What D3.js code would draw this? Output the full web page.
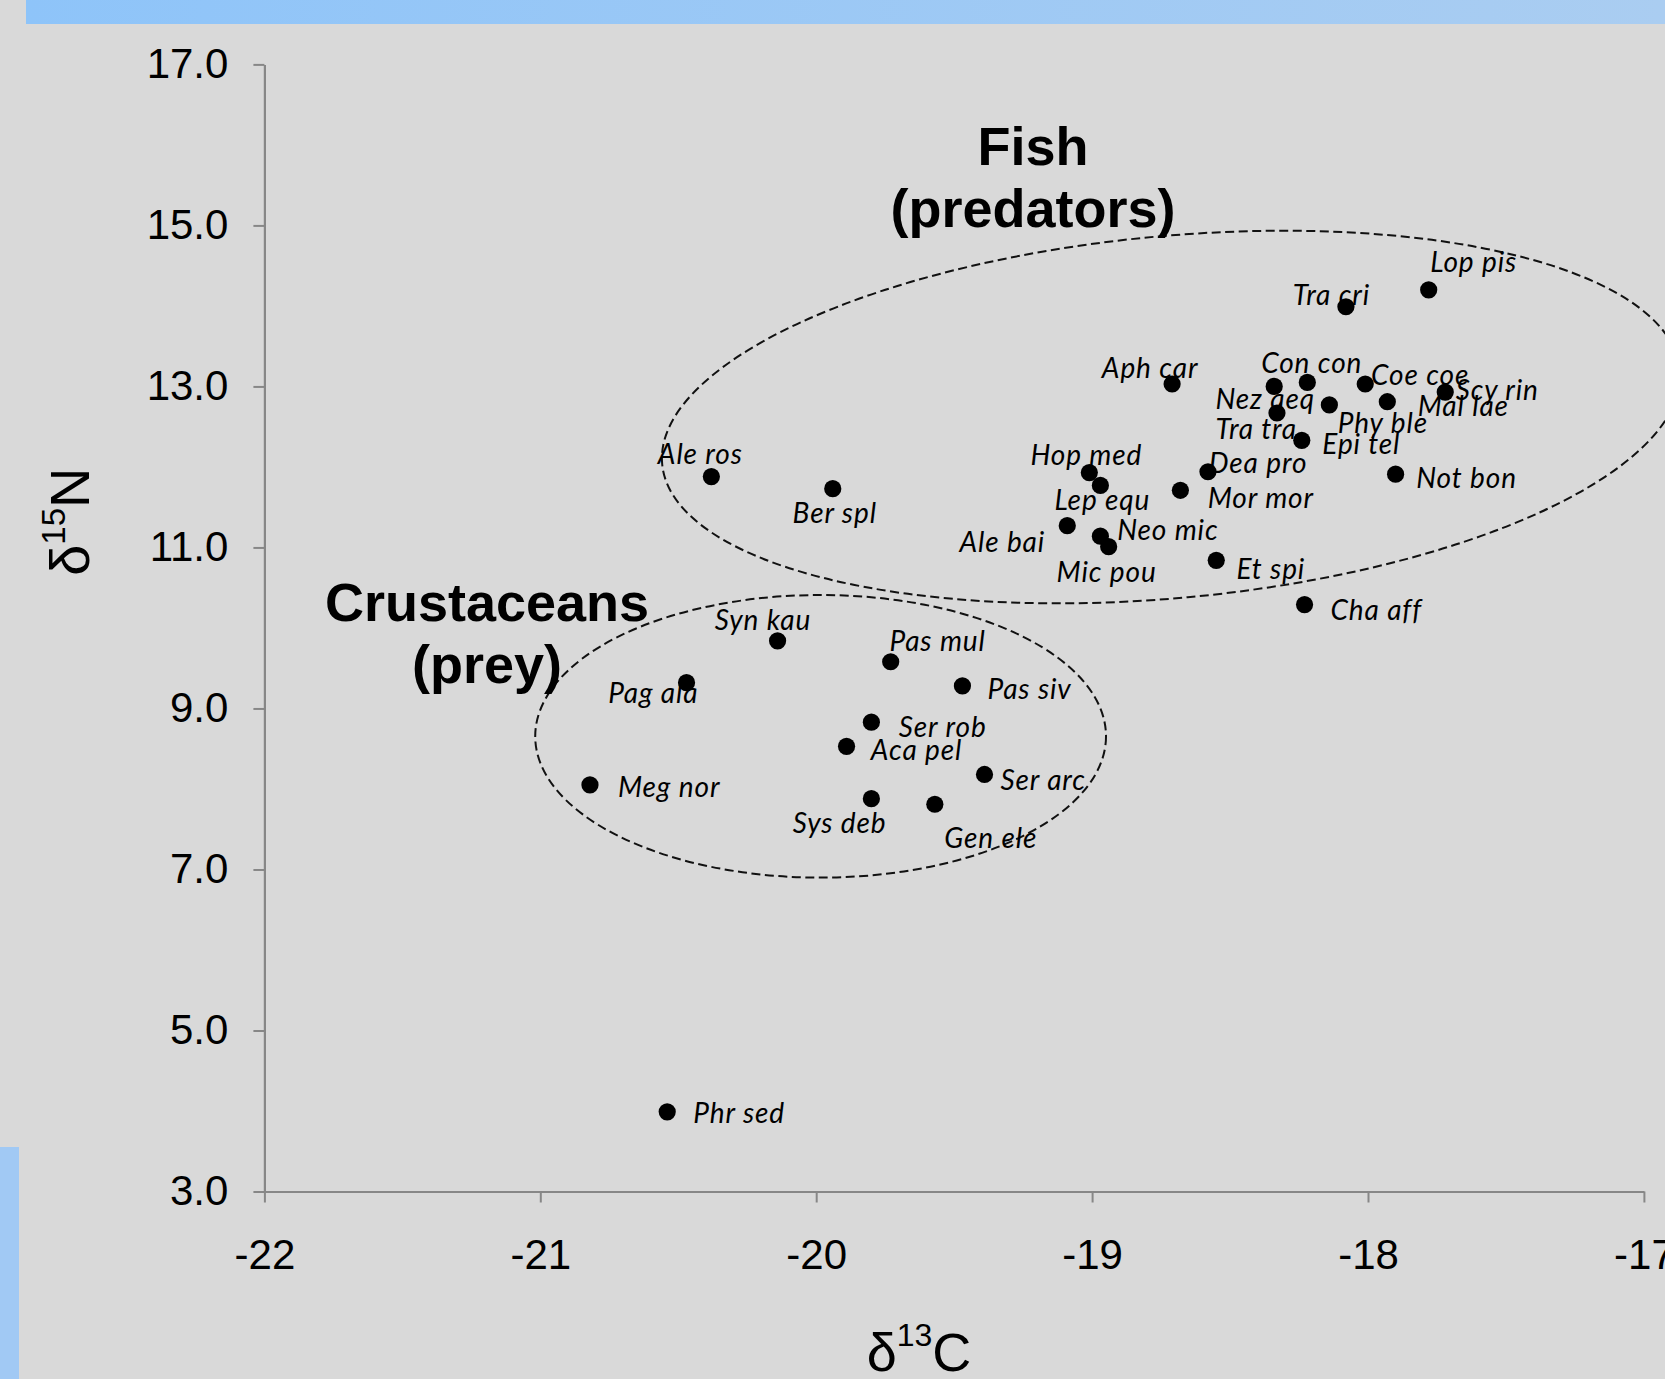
<!DOCTYPE html>
<html>
<head>
<meta charset="utf-8">
<script src="https://cdn.jsdelivr.net/npm/d3@7"></script>
<style>
  html, body { margin: 0; padding: 0; background: #d9d9d9; overflow: hidden; }
  svg { display: block; }
</style>
</head>
<body>
<svg id="chart" width="1665" height="1379"></svg>
<script>
// ---- Data: stable isotope signatures of deep-sea species ----
const species = [
  "Lop pis", "Tra cri", "Aph car", "Con con", "Nez aeq", "Tra tra", "Phy ble",
  "Coe coe", "Mal lae", "Scy rin", "Epi tel", "Not bon", "Dea pro", "Mor mor",
  "Hop med", "Lep equ", "Ale bai", "Neo mic", "Mic pou", "Et spi", "Cha aff",
  "Ale ros", "Ber spl",
  "Syn kau", "Pas mul", "Pag ala", "Pas siv", "Ser rob", "Aca pel", "Meg nor",
  "Ser arc", "Sys deb", "Gen ele", "Phr sed"
];
const d13C = [
  -17.78, -18.08, -18.71, -18.22, -18.34, -18.33, -18.14,
  -18.01, -17.93, -17.72, -18.24, -17.90, -18.58, -18.68,
  -19.01, -18.97, -19.09, -18.97, -18.94, -18.55, -18.23,
  -20.38, -19.94,
  -20.14, -19.73, -20.47, -19.47, -19.80, -19.89, -20.82,
  -19.39, -19.80, -19.57, -20.54
];
const d15N = [
  14.20, 13.99, 13.03, 13.05, 13.00, 12.67, 12.77,
  13.03, 12.81, 12.93, 12.33, 11.91, 11.94, 11.71,
  11.93, 11.77, 11.27, 11.14, 11.01, 10.84, 10.29,
  11.88, 11.73,
  9.84, 9.58, 9.32, 9.28, 8.83, 8.53, 8.05,
  8.18, 7.88, 7.81, 3.99
];
const xTicks = [-22, -21, -20, -19, -18, -17];
const yTicks = [3, 5, 7, 9, 11, 13, 15, 17];
const fishTitle = ["Fish", "(predators)"];
const crustTitle = ["Crustaceans", "(prey)"];

// ---- Layout ----
const W = 1665, H = 1379;
const plot = { left: 264.4, right: 1643.9, top: 64.4, bottom: 1191.5 };

// label centre offsets (px) from each marker
const labelOffset = {
  "Lop pis": [45, -29], "Tra cri": [-14.5, -12.7], "Aph car": [-22, -17.3],
  "Con con": [4.5, -20], "Nez aeq": [-9, 11.3], "Tra tra": [-20.7, 15.3],
  "Phy ble": [53.5, 17], "Coe coe": [55, -10.3], "Mal lae": [76, 3.3],
  "Scy rin": [52, -3.3], "Epi tel": [59.5, 3], "Not bon": [71, 2.4],
  "Dea pro": [50, -10], "Mor mor": [80.5, 6.7], "Hop med": [-3, -18.3],
  "Lep equ": [2, 13.6], "Ale bai": [-65, 15.5], "Neo mic": [67.5, -7],
  "Mic pou": [-2, 24.6], "Et spi": [54.6, 7.3], "Cha aff": [71.7, 4.3],
  "Ale ros": [-11, -23.3], "Ber spl": [2, 23.5],
  "Syn kau": [-14.6, -21.4], "Pas mul": [47, -22], "Pag ala": [-33.2, 9],
  "Pas siv": [67.2, 2.3], "Ser rob": [71.3, 3.4], "Aca pel": [70, 2.3],
  "Meg nor": [79.2, 1.3], "Ser arc": [58.7, 5], "Sys deb": [-31.7, 23.7],
  "Gen ele": [56, 32.4], "Phr sed": [72, 0]
};

const svg = d3.select("#chart");

// background and decorative bars
const defs = svg.append("defs");
const grad = defs.append("linearGradient").attr("id", "topbar")
  .attr("x1", "0%").attr("x2", "100%").attr("y1", "0%").attr("y2", "0%");
grad.append("stop").attr("offset", "0%").attr("stop-color", "#8ec4f9");
grad.append("stop").attr("offset", "100%").attr("stop-color", "#aacdf1");

svg.append("rect").attr("width", W).attr("height", H).attr("fill", "#d9d9d9");
svg.append("rect").attr("x", 26).attr("y", 0).attr("width", W - 26).attr("height", 24)
  .attr("fill", "url(#topbar)");
svg.append("rect").attr("x", 0).attr("y", 1147).attr("width", 19).attr("height", H - 1147)
  .attr("fill", "#a1c9f4");

// scales
const x = d3.scaleLinear().domain([-22, -17]).range([plot.left, plot.right]);
const y = d3.scaleLinear().domain([3, 17]).range([plot.bottom, plot.top]);

const axisColor = "#878787";
const tickFont = "'Liberation Sans', Arial, sans-serif";

// y axis
const yAxis = svg.append("g")
  .attr("transform", `translate(${plot.left},0)`)
  .call(d3.axisLeft(y).tickValues(yTicks).tickFormat(d3.format(".1f"))
    .tickSize(11).tickSizeOuter(0).tickPadding(25));
// x axis
const xAxis = svg.append("g")
  .attr("transform", `translate(0,${plot.bottom})`)
  .call(d3.axisBottom(x).tickValues(xTicks).tickFormat(d3.format("d"))
    .tickSize(11).tickSizeOuter(0));

[yAxis, xAxis].forEach(g => {
  g.select(".domain").attr("stroke", axisColor).attr("stroke-width", 2.2);
  g.selectAll(".tick line").attr("stroke", axisColor).attr("stroke-width", 2);
  g.selectAll(".tick text").attr("fill", "#000")
    .style("font-family", tickFont).style("font-size", "42px");
});
xAxis.selectAll(".tick text").attr("y", 77).attr("dy", null);
// x axis labels use a plain hyphen-minus
xAxis.selectAll(".tick text").text(d => String(d));

// axis titles
const yTitle = svg.append("text")
  .attr("transform", "translate(89,521.7) rotate(-90)")
  .attr("text-anchor", "middle")
  .style("font-family", tickFont).style("font-size", "56px").attr("fill", "#000");
yTitle.append("tspan").text("δ");
yTitle.append("tspan").attr("dy", -24).style("font-size", "33px").text("15");
yTitle.append("tspan").attr("dy", 24).text("N");

const xTitle = svg.append("text")
  .attr("x", 919).attr("y", 1370.7)
  .attr("text-anchor", "middle")
  .style("font-family", tickFont).style("font-size", "54px").attr("fill", "#000");
xTitle.append("tspan").text("δ");
xTitle.append("tspan").attr("dy", -25).style("font-size", "32px").text("13");
xTitle.append("tspan").attr("dy", 25).text("C");

// group envelopes (dashed ellipses)
const envelopes = [
  { cx: -18.714, cy: 12.62, rx: 511, ry: 181, rot: -5.3 },
  { cx: -19.984, cy: 8.654, rx: 285.4, ry: 141.3, rot: 0 }
];
svg.append("g").selectAll("ellipse").data(envelopes).join("ellipse")
  .attr("transform", d => `translate(${x(d.cx)},${y(d.cy)}) rotate(${d.rot})`)
  .attr("rx", d => d.rx).attr("ry", d => d.ry)
  .attr("fill", "none").attr("stroke", "#111").attr("stroke-width", 2)
  .attr("stroke-dasharray", "9,4.5");

// markers
const points = species.map((s, i) => ({ name: s, c: d13C[i], n: d15N[i] }));
svg.append("g").selectAll("circle").data(points).join("circle")
  .attr("cx", d => x(d.c)).attr("cy", d => y(d.n))
  .attr("r", 8.6).attr("fill", "#000");

// species labels
svg.append("g").selectAll("text").data(points).join("text")
  .attr("x", d => x(d.c) + labelOffset[d.name][0])
  .attr("y", d => y(d.n) + labelOffset[d.name][1])
  .attr("text-anchor", "middle").attr("dominant-baseline", "central")
  .style("font-family", "Lato, 'Open Sans', sans-serif")
  .style("font-style", "italic").style("font-size", "28px")
  .style("letter-spacing", "0.9px")
  .attr("fill", "#000")
  .text(d => d.name);

// group titles
function groupTitle(lines, cx, baseline) {
  const t = svg.append("text").attr("text-anchor", "middle")
    .style("font-family", tickFont).style("font-weight", "bold")
    .style("font-size", "54px").attr("fill", "#000");
  lines.forEach((l, i) => t.append("tspan").attr("x", cx)
    .attr("y", baseline + i * 61.7).text(l));
}
groupTitle(fishTitle, 1033, 165);
groupTitle(crustTitle, 487, 621);
</script>
</body>
</html>
